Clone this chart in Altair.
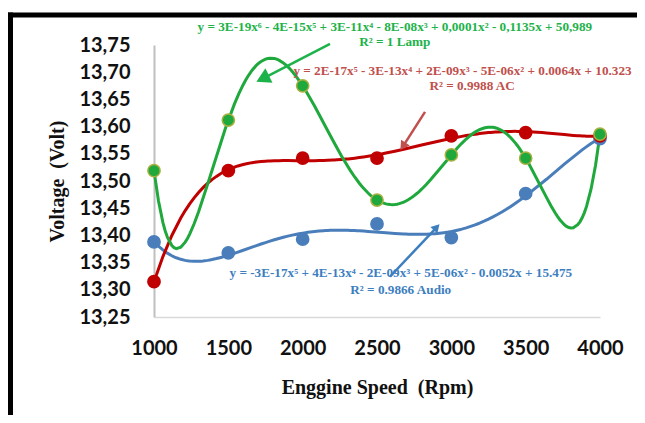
import altair as alt
import pandas as pd

# ---- data ----
rpm = [1000, 1500, 2000, 2500, 3000, 3500, 4000]
lamp = [13.519, 13.612, 13.675, 13.465, 13.548, 13.542, 13.586]
ac = [13.315, 13.519, 13.542, 13.542, 13.583, 13.589, 13.583]
audio = [13.388, 13.368, 13.393, 13.421, 13.396, 13.477, 13.578]

y_ticks = [13.25, 13.30, 13.35, 13.40, 13.45, 13.50, 13.55, 13.60, 13.65, 13.70, 13.75]
x_ticks = [1000, 1500, 2000, 2500, 3000, 3500, 4000]

eq_text = [
    "y = 3E-19x\u2076 - 4E-15x\u2075 + 3E-11x\u2074 - 8E-08x\u00b3 + 0,0001x\u00b2 - 0,1135x + 50,989",
    "R\u00b2 = 1 Lamp",
    "y = 2E-17x\u2075 - 3E-13x\u2074 + 2E-09x\u00b3 - 5E-06x\u00b2 + 0.0064x + 10.323",
    "R\u00b2 = 0.9988 AC",
    "y = -3E-17x\u2075 + 4E-13x\u2074 - 2E-09x\u00b3 + 5E-06x\u00b2 - 0.0052x + 15.475",
    "R\u00b2 = 0.9866 Audio",
]
eq_rpm = [2620, 2620, 3075, 3140, 2660, 2660]
eq_v = [13.783, 13.755, 13.703, 13.674, 13.330, 13.300]

GREEN = "#1fa83c"
RED = "#c00000"
BLUE = "#4a7ebb"
eq_color = ["#1db34a", "#1db34a", "#c0504d", "#c0504d", "#3d7ebf", "#3d7ebf"]

# arrows (start -> tip, data coordinates)
arr_x = [2184, 2823, 2587]
arr_y = [13.752, 13.627, 13.324]
arr_x2 = [1745, 2680, 2895]
arr_y2 = [13.690, 13.566, 13.413]
arr_angle = [244, 214, 43]
arr_color = ["#1db34a", "#c0504d", "#3d7ebf"]
arr_size = [260, 110, 90]

xs = alt.Scale(domain=[1000, 4000], nice=False, zero=False)
ys = alt.Scale(domain=[13.25, 13.75], nice=False, zero=False)

x_axis = alt.Axis(values=x_ticks, title="Enggine Speed\u00a0 (Rpm)", format="d",
                  labelFont="Lato", labelFontWeight="bold", labelFontSize=20,
                  labelColor="#111111", labelPadding=21, ticks=False, grid=False,
                  labelFlush=False, labelOverlap=False,
                  domainColor="#d9d9d9", domainWidth=1.5,
                  titleFont="Liberation Serif", titleFontWeight="bold", titleFontSize=20,
                  titleColor="#111111", titleX=223, titleY=70, titleBaseline="middle")
y_axis = alt.Axis(values=y_ticks, title="Voltage\u00a0 (Volt)",
                  labelExpr="replace(format(datum.value, '.2f'), '.', ',')",
                  labelFont="Lato", labelFontWeight="bold", labelFontSize=20,
                  labelColor="#111111", labelPadding=24, ticks=False, grid=False,
                  labelFlush=False, labelOverlap=False,
                  domainColor="#bfbfbf", domainWidth=2,
                  titleFont="Liberation Serif", titleFontWeight="bold", titleFontSize=20,
                  titleColor="#111111", titleX=-97, titleY=136, titleBaseline="middle",
                  titleAngle=270)


def series(vals, order, color, pfill, pstroke):
    df = pd.DataFrame({"rpm": rpm, "v": vals})
    df["k"] = df["rpm"] / 1000.0
    base = alt.Chart(df)
    curve = base.transform_regression(
        "k", "v", method="poly", order=order, extent=[1, 4]
    ).transform_calculate(rpm="datum.k * 1000").mark_line(
        color=color, strokeWidth=3
    ).encode(x=alt.X("rpm:Q", scale=xs, axis=x_axis), y=alt.Y("v:Q", scale=ys, axis=y_axis))
    pts = base.mark_point(filled=True, size=150, fill=pfill, stroke=pstroke,
                          strokeWidth=1.5, opacity=1).encode(
        x=alt.X("rpm:Q", scale=xs, axis=x_axis), y=alt.Y("v:Q", scale=ys, axis=y_axis))
    return curve, pts


b_line, b_pts = series(audio, 5, BLUE, BLUE, BLUE)
r_line, r_pts = series(ac, 5, RED, RED, RED)
g_line, g_pts = series(lamp, 6, GREEN, GREEN, "#a8b040")

ann = pd.DataFrame({"rpm": eq_rpm, "v": eq_v, "t": eq_text, "c": eq_color})
texts = alt.Chart(ann).mark_text(font="Liberation Serif", fontWeight="bold",
                                 fontSize=13.2, align="center", baseline="middle").encode(
    x=alt.X("rpm:Q", scale=xs, axis=x_axis), y=alt.Y("v:Q", scale=ys, axis=y_axis), text="t:N",
    color=alt.Color("c:N", scale=None))

arr = pd.DataFrame({"x": arr_x, "y": arr_y, "x2": arr_x2, "y2": arr_y2,
                    "a": arr_angle, "c": arr_color, "s": arr_size})
arrow_lines = alt.Chart(arr).mark_rule(strokeWidth=2.5).encode(
    x=alt.X("x:Q", scale=xs, axis=x_axis), y=alt.Y("y:Q", scale=ys, axis=y_axis),
    x2="x2:Q", y2="y2:Q",
    color=alt.Color("c:N", scale=None))
arrow_heads = alt.Chart(arr).mark_point(shape="triangle", filled=True, opacity=1).encode(
    x=alt.X("x2:Q", scale=xs, axis=x_axis), y=alt.Y("y2:Q", scale=ys, axis=y_axis),
    angle=alt.Angle("a:Q", scale=None), size=alt.Size("s:Q", scale=None),
    color=alt.Color("c:N", scale=None))

border_top = alt.Chart(pd.DataFrame({"d": [0]})).mark_rule(color="black", strokeWidth=5).encode(
    x=alt.value(-146), x2=alt.value(490), y=alt.value(-30))
border_left = alt.Chart(pd.DataFrame({"d": [0]})).mark_rule(color="black", strokeWidth=5).encode(
    x=alt.value(-143.5), y=alt.value(-32.5), y2=alt.value(380))

chart = alt.layer(
    b_line, r_line, g_line, b_pts, r_pts, g_pts,
    arrow_lines, arrow_heads, texts, border_top, border_left
).properties(
    width=446, height=272,
    autosize=alt.AutoSizeParams(type="none"),
    padding={"left": 146, "top": 37, "right": 37, "bottom": 98},
    background="white",
).configure_view(stroke=None).configure_axis(labelOverlap=False)

chart.save("out.html", embed_options={"renderer": "svg", "actions": False})
